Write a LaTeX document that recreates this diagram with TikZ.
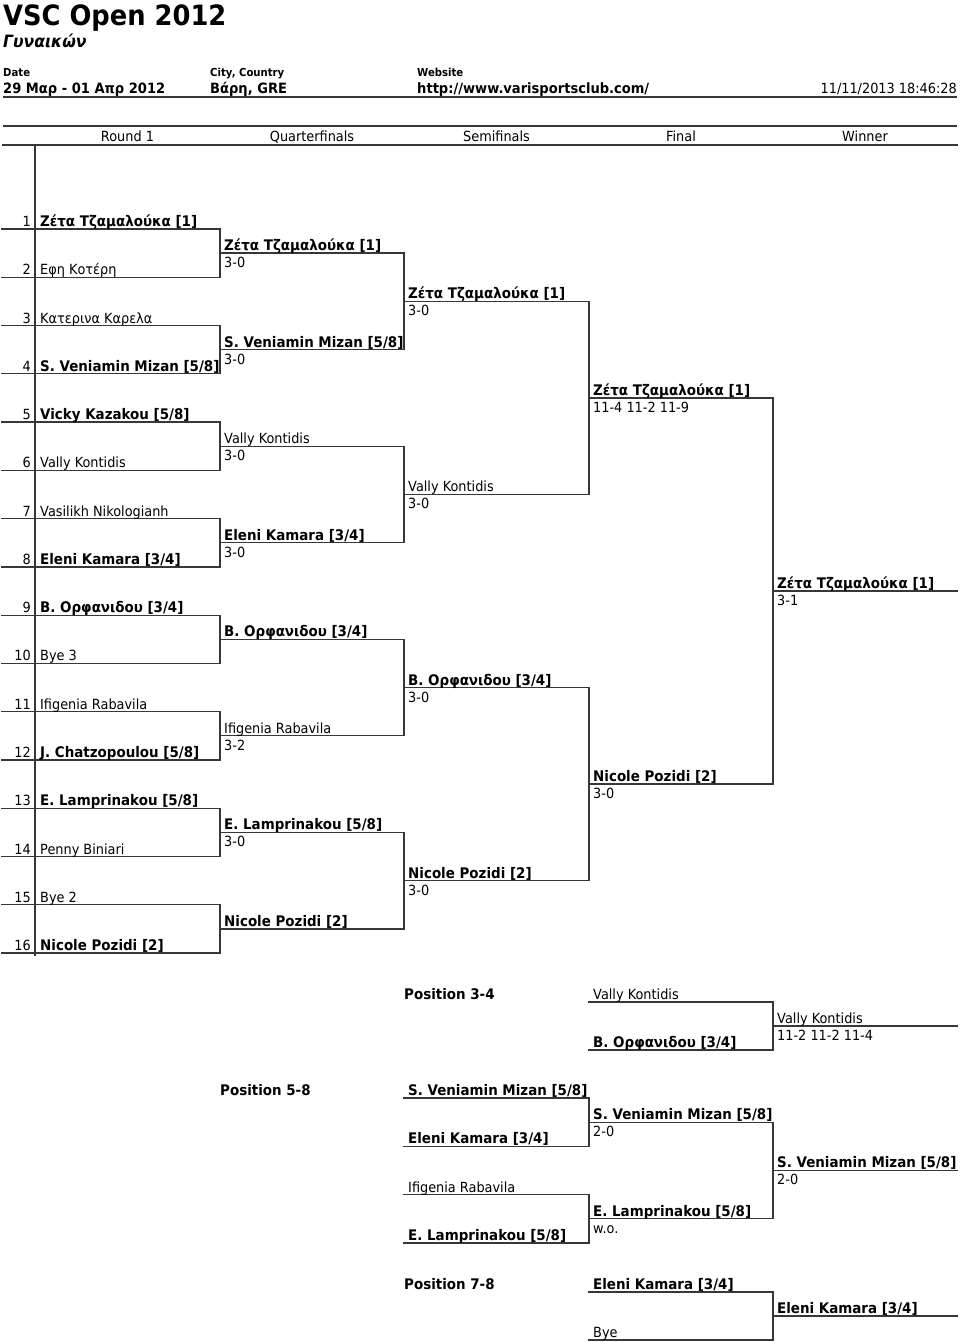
\documentclass[tikz,border=0pt]{standalone}
\usepackage{fontspec}
\setmainfont{DejaVu Sans}[FakeStretch=0.92]
\usepackage{tikz}
\usetikzlibrary{positioning,calc}
\definecolor{trazo}{RGB}{55,55,55}

\begin{document}
\begin{tikzpicture}[x=1pt, y=-1pt,
    linea/.style={line width=1.3pt, color=trazo, line cap=rect},
    gruesa/.style={line width=2.6pt, color=trazo},
    nombre/.style={anchor=base west, inner sep=0pt, font=\fontsize{14}{16}\selectfont},
    sembrada/.style={nombre, font=\fontsize{14.6}{16}\selectfont\bfseries},
    numero/.style={anchor=base east, inner sep=0pt, font=\fontsize{14}{16}\selectfont, xshift=29pt, yshift=2.5pt},
    ronda/.style={anchor=base, inner sep=0pt, font=\fontsize{14}{16}\selectfont},
    rotulo/.style={anchor=base west, inner sep=0pt, font=\fontsize{11}{13}\selectfont\bfseries},
    dato/.style={anchor=base west, inner sep=0pt, font=\fontsize{14.2}{16}\selectfont\bfseries},
    jug/.style={xshift=38pt, yshift=2.5pt},
    arriba/.style={xshift=4pt, yshift=2.5pt},
    abajo/.style={xshift=4pt, yshift=-14.5pt}]
  \useasboundingbox (0,0) rectangle (960,1342);

  % cabecera
  \node[anchor=base west, inner sep=0pt, font=\fontsize{28}{30}\selectfont\bfseries] (titulo) at (3,25) {VSC Open 2012};
  \node[anchor=base west, inner sep=0pt, font=\fontsize{17}{19}\selectfont\bfseries\itshape] (categoria) at (3,47) {Γυναικών};
  \node[rotulo] (fecha) at (3,76.5) {Date};
  \node[rotulo] (ciudad) at (210,76.5) {City, Country};
  \node[rotulo] (web) at (417,76.5) {Website};
  \node[dato] (fechav) at (3,93) {29 Μαρ - 01 Απρ 2012};
  \node[dato] (ciudadv) at (210,93) {Βάρη, GRE};
  \node[dato] (webv) at (417,93) {http://www.varisportsclub.com/};
  \node[nombre, anchor=base east] (impreso) at (957,93) {11/11/2013 18:46:28};
  \coordinate (h1) at (3,97);    \coordinate (h1d) at (957,97);
  \coordinate (h2) at (3,126);   \coordinate (h2d) at (957,126);
  \coordinate (h3) at (3,145);   \coordinate (h3d) at (957,145);
  \draw[gruesa] (h1) -- (h1d);
  \draw[gruesa] (h2) -- (h2d);
  \draw[linea, line width=1.6pt] (h3) -- (h3d);
  \node[ronda] (r1) at (127.5,141) {Round 1};
  \node[ronda] (r2) at (312,141) {Quarterfinals};
  \node[ronda] (r3) at (496.5,141) {Semifinals};
  \node[ronda] (r4) at (681,141) {Final};
  \node[ronda] (r5) at (865,141) {Winner};
  \coordinate (sep1) at (35,145);
  \coordinate (sep2) at (35,955);
  \draw[linea] (sep1) -- (sep2);

  % cuadro principal
  \foreach \k in {1,...,16} {
    \pgfmathsetmacro\yy{229+48.27*(\k-1)}
    \coordinate (p\k) at (2,\yy);
    \coordinate (pd\k) at (220,\yy);
    \draw[linea] (p\k) -- (pd\k);
    \node[numero] (num\k) at (p\k) {\k};
  }
  \foreach \j in {1,...,8} {
    \pgfmathtruncatemacro\a{2*\j-1}
    \pgfmathtruncatemacro\b{2*\j}
    \pgfmathsetmacro\yy{253.135+96.54*(\j-1)}
    \coordinate (c\j) at (220,\yy);
    \coordinate (cd\j) at (404,\yy);
    \draw[linea] (pd\a) -- (pd\b);
    \draw[linea] (c\j) -- (cd\j);
  }
  \foreach \j in {1,...,4} {
    \pgfmathtruncatemacro\a{2*\j-1}
    \pgfmathtruncatemacro\b{2*\j}
    \pgfmathsetmacro\yy{301.4+193.08*(\j-1)}
    \coordinate (s\j) at (404,\yy);
    \coordinate (sd\j) at (589,\yy);
    \draw[linea] (cd\a) -- (cd\b);
    \draw[linea] (s\j) -- (sd\j);
  }
  \foreach \j in {1,2} {
    \pgfmathtruncatemacro\a{2*\j-1}
    \pgfmathtruncatemacro\b{2*\j}
    \pgfmathsetmacro\yy{397.95+386.16*(\j-1)}
    \coordinate (f\j) at (589,\yy);
    \coordinate (fd\j) at (773,\yy);
    \draw[linea] (sd\a) -- (sd\b);
    \draw[linea] (f\j) -- (fd\j);
  }
  \coordinate (g) at (773,591.03);
  \coordinate (gd) at (957,591.03);
  \draw[linea] (fd1) -- (fd2);
  \draw[linea] (g) -- (gd);

  \node[sembrada, jug] (n1) at (p1) {Ζέτα Τζαμαλούκα [1]};
  \node[nombre, jug] (n2) at (p2) {Εφη Κοτέρη};
  \node[nombre, jug] (n3) at (p3) {Κατερινα Καρελα};
  \node[sembrada, jug] (n4) at (p4) {S. Veniamin Mizan [5/8]};
  \node[sembrada, jug] (n5) at (p5) {Vicky Kazakou [5/8]};
  \node[nombre, jug] (n6) at (p6) {Vally Kontidis};
  \node[nombre, jug] (n7) at (p7) {Vasilikh Nikologianh};
  \node[sembrada, jug] (n8) at (p8) {Eleni Kamara [3/4]};
  \node[sembrada, jug] (n9) at (p9) {B. Ορφανιδου [3/4]};
  \node[nombre, jug] (n10) at (p10) {Bye 3};
  \node[nombre, jug] (n11) at (p11) {Ifigenia Rabavila};
  \node[sembrada, jug] (n12) at (p12) {J. Chatzopoulou [5/8]};
  \node[sembrada, jug] (n13) at (p13) {E. Lamprinakou [5/8]};
  \node[nombre, jug] (n14) at (p14) {Penny Biniari};
  \node[nombre, jug] (n15) at (p15) {Bye 2};
  \node[sembrada, jug] (n16) at (p16) {Nicole Pozidi [2]};

  \node[sembrada, arriba] (cn1) at (c1) {Ζέτα Τζαμαλούκα [1]};
  \node[nombre, abajo] (cm1) at (c1) {3-0};
  \node[sembrada, arriba] (cn2) at (c2) {S. Veniamin Mizan [5/8]};
  \node[nombre, abajo] (cm2) at (c2) {3-0};
  \node[nombre, arriba] (cn3) at (c3) {Vally Kontidis};
  \node[nombre, abajo] (cm3) at (c3) {3-0};
  \node[sembrada, arriba] (cn4) at (c4) {Eleni Kamara [3/4]};
  \node[nombre, abajo] (cm4) at (c4) {3-0};
  \node[sembrada, arriba] (cn5) at (c5) {B. Ορφανιδου [3/4]};
  \node[nombre, arriba] (cn6) at (c6) {Ifigenia Rabavila};
  \node[nombre, abajo] (cm6) at (c6) {3-2};
  \node[sembrada, arriba] (cn7) at (c7) {E. Lamprinakou [5/8]};
  \node[nombre, abajo] (cm7) at (c7) {3-0};
  \node[sembrada, arriba] (cn8) at (c8) {Nicole Pozidi [2]};

  \node[sembrada, arriba] (sn1) at (s1) {Ζέτα Τζαμαλούκα [1]};
  \node[nombre, abajo] (sm1) at (s1) {3-0};
  \node[nombre, arriba] (sn2) at (s2) {Vally Kontidis};
  \node[nombre, abajo] (sm2) at (s2) {3-0};
  \node[sembrada, arriba] (sn3) at (s3) {B. Ορφανιδου [3/4]};
  \node[nombre, abajo] (sm3) at (s3) {3-0};
  \node[sembrada, arriba] (sn4) at (s4) {Nicole Pozidi [2]};
  \node[nombre, abajo] (sm4) at (s4) {3-0};

  \node[sembrada, arriba] (fn1) at (f1) {Ζέτα Τζαμαλούκα [1]};
  \node[nombre, abajo] (fm1) at (f1) {11-4 11-2 11-9};
  \node[sembrada, arriba] (fn2) at (f2) {Nicole Pozidi [2]};
  \node[nombre, abajo] (fm2) at (f2) {3-0};

  \node[sembrada, arriba] (gn) at (g) {Ζέτα Τζαμαλούκα [1]};
  \node[nombre, abajo] (gm) at (g) {3-1};

  % puesto 3-4
  \node[sembrada] (pos34) at (404,999) {Position 3-4};
  \coordinate (t1) at (589,1002);   \coordinate (t1d) at (773,1002);
  \coordinate (t2) at (589,1050);   \coordinate (t2d) at (773,1050);
  \coordinate (t3) at (773,1026);   \coordinate (t3d) at (957,1026);
  \draw[linea] (t1) -- (t1d);
  \draw[linea] (t2) -- (t2d);
  \draw[linea] (t1d) -- (t2d);
  \draw[linea] (t3) -- (t3d);
  \node[nombre, arriba] (tn1) at (t1) {Vally Kontidis};
  \node[sembrada, arriba] (tn2) at (t2) {B. Ορφανιδου [3/4]};
  \node[nombre, arriba] (tn3) at (t3) {Vally Kontidis};
  \node[nombre, abajo] (tm3) at (t3) {11-2 11-2 11-4};

  % puestos 5-8
  \node[sembrada] (pos58) at (220,1095.5) {Position 5-8};
  \coordinate (q1) at (404,1098);     \coordinate (q1d) at (589,1098);
  \coordinate (q2) at (404,1146.3);   \coordinate (q2d) at (589,1146.3);
  \coordinate (q3) at (404,1194.6);   \coordinate (q3d) at (589,1194.6);
  \coordinate (q4) at (404,1242.9);   \coordinate (q4d) at (589,1242.9);
  \coordinate (q5) at (589,1122.15);  \coordinate (q5d) at (773,1122.15);
  \coordinate (q6) at (589,1218.75);  \coordinate (q6d) at (773,1218.75);
  \coordinate (q7) at (773,1170.45);  \coordinate (q7d) at (957,1170.45);
  \draw[linea] (q1) -- (q1d);
  \draw[linea] (q2) -- (q2d);
  \draw[linea] (q3) -- (q3d);
  \draw[linea] (q4) -- (q4d);
  \draw[linea] (q1d) -- (q2d);
  \draw[linea] (q3d) -- (q4d);
  \draw[linea] (q5) -- (q5d);
  \draw[linea] (q6) -- (q6d);
  \draw[linea] (q5d) -- (q6d);
  \draw[linea] (q7) -- (q7d);
  \node[sembrada, arriba] (qn1) at (q1) {S. Veniamin Mizan [5/8]};
  \node[sembrada, arriba] (qn2) at (q2) {Eleni Kamara [3/4]};
  \node[nombre, arriba] (qn3) at (q3) {Ifigenia Rabavila};
  \node[sembrada, arriba] (qn4) at (q4) {E. Lamprinakou [5/8]};
  \node[sembrada, arriba] (qn5) at (q5) {S. Veniamin Mizan [5/8]};
  \node[nombre, abajo] (qm5) at (q5) {2-0};
  \node[sembrada, arriba] (qn6) at (q6) {E. Lamprinakou [5/8]};
  \node[nombre, abajo] (qm6) at (q6) {w.o.};
  \node[sembrada, arriba] (qn7) at (q7) {S. Veniamin Mizan [5/8]};
  \node[nombre, abajo] (qm7) at (q7) {2-0};

  % puesto 7-8
  \node[sembrada] (pos78) at (404,1289.5) {Position 7-8};
  \coordinate (o1) at (589,1292);   \coordinate (o1d) at (773,1292);
  \coordinate (o2) at (589,1340);   \coordinate (o2d) at (773,1340);
  \coordinate (o3) at (773,1316);   \coordinate (o3d) at (957,1316);
  \draw[linea] (o1) -- (o1d);
  \draw[linea] (o2) -- (o2d);
  \draw[linea] (o1d) -- (o2d);
  \draw[linea] (o3) -- (o3d);
  \node[sembrada, arriba] (on1) at (o1) {Eleni Kamara [3/4]};
  \node[nombre, arriba] (on2) at (o2) {Bye};
  \node[sembrada, arriba] (on3) at (o3) {Eleni Kamara [3/4]};
\end{tikzpicture}
\end{document}
